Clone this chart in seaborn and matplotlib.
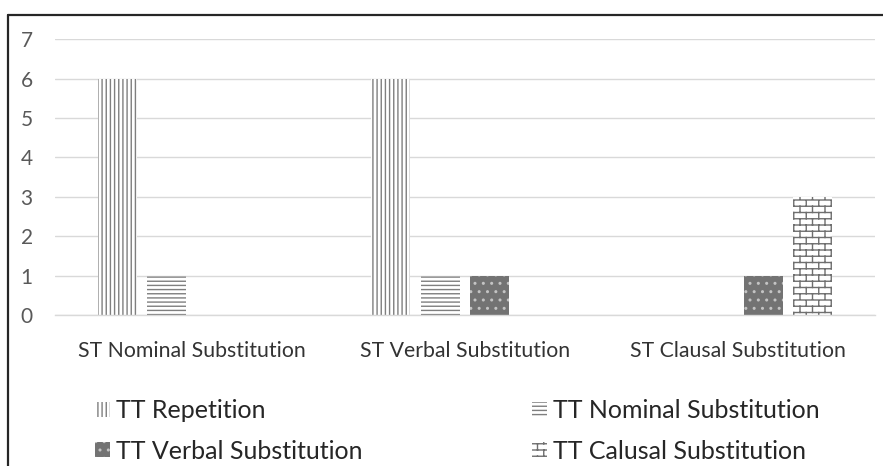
import matplotlib
matplotlib.use("Agg")
import numpy as np
import matplotlib.pyplot as plt
import matplotlib.hatch as mhatch
from matplotlib.path import Path
import seaborn as sns
import pandas as pd
from matplotlib.patches import Patch
from matplotlib.lines import Line2D

categories = ["ST Nominal Substitution", "ST Verbal Substitution", "ST Clausal Substitution"]
series = ["TT Repetition", "TT Nominal Substitution", "TT Verbal Substitution", "TT Calusal Substitution"]
rep = [6, 6, 0]
nom = [1, 1, 0]
verb = [0, 1, 1]
cla = [0, 0, 3]
yticks = [0, 1, 2, 3, 4, 5, 6, 7]


# custom brick hatch, triggered by the character 'b'
class BrickHatch(mhatch.HatchPatternBase):
    def __init__(self, hatch, density):
        n = hatch.count('b')
        self.rows = 16 * n
        self.cols = 8 * n
        if n == 0:
            self.num_vertices = 0
            return
        nh = self.rows + 1
        nv = 0
        for i in range(self.rows):
            off = 0.0 if i % 2 == 0 else 0.5 / self.cols
            for j in range(self.cols + 1):
                if j / self.cols + off <= 1.0:
                    nv += 1
        self.num_vertices = 2 * (nh + nv)

    def set_vertices_and_codes(self, vertices, codes):
        k = 0
        for i in range(self.rows + 1):
            y = i / self.rows
            vertices[k] = (0.0, y); codes[k] = Path.MOVETO
            vertices[k + 1] = (1.0, y); codes[k + 1] = Path.LINETO
            k += 2
        for i in range(self.rows):
            off = 0.0 if i % 2 == 0 else 0.5 / self.cols
            for j in range(self.cols + 1):
                x = j / self.cols + off
                if x <= 1.0:
                    vertices[k] = (x, i / self.rows); codes[k] = Path.MOVETO
                    vertices[k + 1] = (x, (i + 1) / self.rows); codes[k + 1] = Path.LINETO
                    k += 2


mhatch._hatch_types.append(BrickHatch)
mhatch._validate_hatch_pattern = lambda h: None

sns.set_theme(style="white")
plt.rcParams['font.family'] = ['Lato', 'DejaVu Sans']
plt.rcParams['hatch.linewidth'] = 1.0

rows = []
for s, vals in zip(series, [rep, nom, verb, cla]):
    for c, v in zip(categories, vals):
        rows.append({"cat": c, "series": s, "value": v})
df = pd.DataFrame(rows)

fig = plt.figure(figsize=(8.83, 4.66), dpi=100)
ax = fig.add_axes([55/883, 1-315/466, 820/883, (315-39.3)/466])

sns.barplot(data=df, x="cat", y="value", hue="series", order=categories,
            hue_order=series, width=0.725, gap=0.21, legend=False, ax=ax,
            linewidth=0)

styles = [
    dict(facecolor="white", edgecolor="#7f7f7f", hatch="||||"),
    dict(facecolor="white", edgecolor="#7f7f7f", hatch="----"),
    dict(facecolor="#737373", edgecolor="#c4c4c4", hatch=".."),
    dict(facecolor="white", edgecolor="#6f6f6f", hatch="b"),
]
for cont, st in zip(ax.containers, styles):
    for p in cont:
        p.set_facecolor(st["facecolor"])
        p.set_edgecolor(st["edgecolor"])
        p.set_hatch(st["hatch"])
        p.set_linewidth(0)

ax.set_ylim(0, 7)
ax.set_yticks(yticks)
ax.set_yticklabels([str(t) for t in yticks])
ax.set_xlim(-0.5, 2.5)
ax.yaxis.grid(True, color="#d9d9d9", linewidth=1.0)
ax.set_axisbelow(True)
for side in ["left", "right", "top"]:
    ax.spines[side].set_visible(False)
ax.spines["bottom"].set_color("#d9d9d9")
ax.spines["bottom"].set_linewidth(1.0)
ax.set_xlabel("")
ax.set_ylabel("")
ax.tick_params(axis="y", length=0, pad=16, labelsize=15, labelcolor="#595959")
ax.tick_params(axis="x", length=0, pad=19, labelsize=15.3, labelcolor="#333333")

handles = [Patch(linewidth=0, **st) for st in styles]
order = [0, 2, 1, 3]
leg = fig.legend([handles[i] for i in order], [series[i] for i in order],
                 ncol=2, loc="center left", bbox_to_anchor=(95/883, 1-431/466),
                 frameon=False, fontsize=18.0, handlelength=0.6, handleheight=0.55,
                 handletextpad=0.25, columnspacing=6.75, labelspacing=0.7,
                 borderpad=0, borderaxespad=0, labelcolor="#262626")

fig.add_artist(Line2D([8/883, 1.0], [1-15/466, 1-15/466], color="#262626", linewidth=1.6))
fig.add_artist(Line2D([8/883, 8/883], [0, 1-15/466], color="#262626", linewidth=1.6))

fig.savefig("out.png", dpi=100)
